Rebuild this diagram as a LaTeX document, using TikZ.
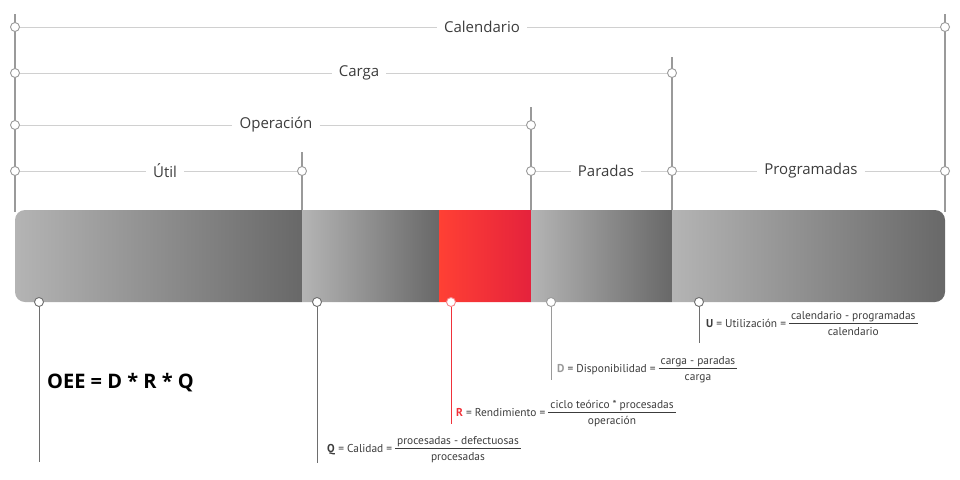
\documentclass[tikz,border=0pt]{standalone}
\usepackage{fontspec}
\setmainfont{Open Sans}
\newfontfamily\formfont{PT Sans}
\usetikzlibrary{positioning}

\definecolor{gris}{HTML}{9A9A9A}
\definecolor{grisosc}{HTML}{6E6E6E}
\definecolor{lineaclara}{HTML}{D0D0D0}
\definecolor{texto}{HTML}{3C3C3C}
\definecolor{rojo}{HTML}{F0323A}
\definecolor{rojoclaro}{HTML}{FF4034}
\definecolor{rojooscuro}{HTML}{E5223C}
\definecolor{barraclara}{HTML}{B4B4B4}
\definecolor{barraoscura}{HTML}{686868}

\newcommand{\cociente}[2]{\begin{tabular}{@{\hspace{2pt}}c@{\hspace{2pt}}}#1\\[0pt]\hline\rule{0pt}{12pt}#2\end{tabular}}

\tikzset{
  hito/.style={circle, draw=gris, fill=white, line width=0.9pt, inner sep=0pt, minimum size=9pt},
  hitobajo/.style={hito, draw=grisosc},
  etiq/.style={inner sep=7pt, text=texto, font=\fontsize{15}{18}\selectfont},
  cota/.style={draw=lineaclara, line width=0.9pt},
  poste/.style={draw=gris, line width=1.6pt},
  bajada/.style={draw=grisosc, line width=0.9pt},
  formula/.style={anchor=west, inner sep=0pt, text=texto, font=\formfont\fontsize{11.4}{13}\selectfont},
}

\begin{document}
\begin{tikzpicture}[x=1pt,y=-1pt]
\useasboundingbox (0,0) rectangle (960,479);

% postes verticales
\coordinate (izqA) at (15,14);   \coordinate (izqB) at (15,212);
\coordinate (utiA) at (302,152); \coordinate (utiB) at (302,212);
\coordinate (opeA) at (531,107); \coordinate (opeB) at (531,212);
\coordinate (carA) at (672,57);  \coordinate (carB) at (672,212);
\coordinate (calA) at (945,14);  \coordinate (calB) at (945,212);
\draw[poste] (izqA) -- (izqB);
\draw[poste] (utiA) -- (utiB);
\draw[poste] (opeA) -- (opeB);
\draw[poste] (carA) -- (carB);
\draw[poste] (calA) -- (calB);

% hitos y cotas
\node[hito] (cal1) at (15,27) {};
\node[hito] (cal2) at (945,27) {};
\node[hito] (car1) at (15,73) {};
\node[hito] (car2) at (672,73) {};
\node[hito] (ope1) at (15,125) {};
\node[hito] (ope2) at (531,125) {};
\node[hito] (uti1) at (15,171) {};
\node[hito] (uti2) at (302,171) {};
\node[hito] (par1) at (531,171) {};
\node[hito] (par2) at (672,171) {};
\node[hito] (pro2) at (945,171) {};

\node[etiq] (lcal) at (482,27) {Calendario};
\node[etiq] (lcar) at (359,73) {Carga};
\node[etiq] (lope) at (276,125) {Operación};
\node[etiq] (luti) at (165,171) {Útil};
\node[etiq] (lpar) at (606,171) {Paradas};
\node[etiq] (lpro) at (811,171) {Programadas};

\draw[cota] (cal1) -- (lcal) -- (cal2);
\draw[cota] (car1) -- (lcar) -- (car2);
\draw[cota] (ope1) -- (lope) -- (ope2);
\draw[cota] (uti1) -- (luti) -- (uti2);
\draw[cota] (par1) -- (lpar) -- (par2);
\draw[cota] (par2) -- (lpro) -- (pro2);

% barra
\begin{scope}
  \clip[rounded corners=10pt] (15,210) rectangle (945,302);
  \shade[left color=barraclara, right color=barraoscura] (15,210) rectangle (302,302);
  \shade[left color=barraclara, right color=barraoscura] (302,210) rectangle (439,302);
  \shade[left color=rojoclaro, right color=rojooscuro] (439,210) rectangle (531,302);
  \shade[left color=barraclara, right color=barraoscura] (531,210) rectangle (672,302);
  \shade[left color=barraclara, right color=barraoscura] (672,210) rectangle (945,302);
\end{scope}

% bajadas
\coordinate (finO) at (39,462);
\coordinate (finQ) at (317,463);
\coordinate (finR) at (451,424);
\coordinate (finD) at (551,380);
\coordinate (finU) at (699,343);
\node[hitobajo] (bO) at (39,302) {};
\node[hitobajo] (bQ) at (317,302) {};
\node[hito, draw=rojo!60] (bR) at (451,302) {};
\node[hito] (bD) at (551,302) {};
\node[hitobajo] (bU) at (699,302) {};
\draw[bajada] (bO) -- (finO);
\draw[bajada] (bQ) -- (finQ);
\draw[bajada, draw=rojo] (bR) -- (finR);
\draw[bajada, draw=gris] (bD) -- (finD);
\draw[bajada] (bU) -- (finU);

% formulas
\node[anchor=west, inner sep=0pt, font=\bfseries\fontsize{20}{24}\selectfont] (oee) at (47,383) {OEE = D * R * Q};
\node[formula] (fU) at (706,325) {\textbf{U} = Utilización = \cociente{calendario - programadas}{calendario}};
\node[formula] (fD) at (557,370) {\textcolor{gris}{\textbf{D}} = Disponibilidad = \cociente{carga - paradas}{carga}};
\node[formula] (fR) at (456,414) {\textcolor{rojo}{\textbf{R}} = Rendimiento = \cociente{ciclo teórico * procesadas}{operación}};
\node[formula] (fQ) at (327,450) {\textbf{Q} = Calidad = \cociente{procesadas - defectuosas}{procesadas}};
\end{tikzpicture}
\end{document}
